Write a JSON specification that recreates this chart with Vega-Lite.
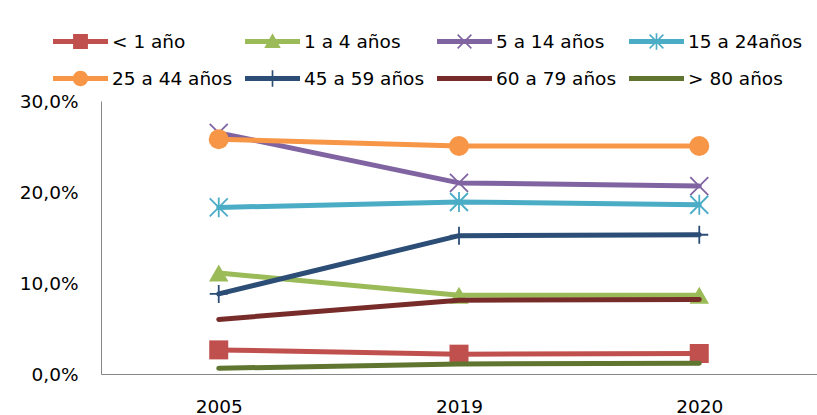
{
  "$schema": "https://vega.github.io/schema/vega-lite/v6.json",
  "width": 716,
  "height": 273,
  "autosize": "none",
  "padding": {"left": 101, "top": 101, "right": 0, "bottom": 41},
  "background": "white",
  "config": {"view": {"stroke": null}, "font": "DejaVu Sans"},
  "data": {
    "values": [
      {"serie": "< 1 año", "anio": "2005", "valor": 0.0265},
      {"serie": "< 1 año", "anio": "2019", "valor": 0.0218},
      {"serie": "< 1 año", "anio": "2020", "valor": 0.0225},
      {"serie": "1 a 4 años", "anio": "2005", "valor": 0.111},
      {"serie": "1 a 4 años", "anio": "2019", "valor": 0.0865},
      {"serie": "1 a 4 años", "anio": "2020", "valor": 0.0865},
      {"serie": "5 a 14 años", "anio": "2005", "valor": 0.265},
      {"serie": "5 a 14 años", "anio": "2019", "valor": 0.21},
      {"serie": "5 a 14 años", "anio": "2020", "valor": 0.2065},
      {"serie": "15 a 24años", "anio": "2005", "valor": 0.183},
      {"serie": "15 a 24años", "anio": "2019", "valor": 0.189},
      {"serie": "15 a 24años", "anio": "2020", "valor": 0.186},
      {"serie": "25 a 44 años", "anio": "2005", "valor": 0.258},
      {"serie": "25 a 44 años", "anio": "2019", "valor": 0.2505},
      {"serie": "25 a 44 años", "anio": "2020", "valor": 0.2505},
      {"serie": "45 a 59 años", "anio": "2005", "valor": 0.088},
      {"serie": "45 a 59 años", "anio": "2019", "valor": 0.152},
      {"serie": "45 a 59 años", "anio": "2020", "valor": 0.153},
      {"serie": "60 a 79 años", "anio": "2005", "valor": 0.06},
      {"serie": "60 a 79 años", "anio": "2019", "valor": 0.081},
      {"serie": "60 a 79 años", "anio": "2020", "valor": 0.082},
      {"serie": "> 80 años", "anio": "2005", "valor": 0.0063},
      {"serie": "> 80 años", "anio": "2019", "valor": 0.011},
      {"serie": "> 80 años", "anio": "2020", "valor": 0.0117}
    ]
  },
  "encoding": {
    "x": {
      "field": "anio", "type": "ordinal",
      "scale": {"type": "point", "padding": 0.49},
      "axis": {"title": null, "labelAngle": 0, "ticks": false, "tickSize": 0, "labelPadding": 23, "labelFont": "DejaVu Sans", "labelFontSize": 18.5, "labelColor": "#000000", "domainColor": "#868686", "domainWidth": 1, "grid": false}
    },
    "y": {
      "field": "valor", "type": "quantitative",
      "scale": {"domain": [0, 0.3], "nice": false},
      "axis": {"title": null, "values": [0, 0.1, 0.2, 0.3], "labelExpr": "replace(format(datum.value, '.1%'), '.', ',')", "ticks": false, "tickSize": 0, "labelPadding": 23, "labelFont": "DejaVu Sans", "labelFontSize": 18.5, "labelColor": "#000000", "domainColor": "#868686", "domainWidth": 1, "grid": false}
    },
    "color": {"field": "serie", "type": "nominal",
      "scale": {"domain": ["< 1 año", "1 a 4 años", "5 a 14 años", "15 a 24años", "25 a 44 años", "45 a 59 años", "60 a 79 años", "> 80 años"],
                "range": ["#C0504D", "#9BBB59", "#8064A2", "#4BACC6", "#F79646", "#2C4D75", "#772C2A", "#5F7530"]},
      "legend": {"title": null, "orient": "none", "direction": "horizontal", "legendX": -48, "legendY": -87, "columns": 4, "symbolSize": 3025, "symbolStrokeWidth": 0, "symbolOpacity": 1, "labelFont": "DejaVu Sans", "labelFontSize": 18.5, "labelColor": "#000000", "labelOffset": 4, "columnPadding": 12, "rowPadding": -24, "padding": 0, "labelLimit": 400}}
  },
  "layer": [
    {
      "transform": [{"filter": {"field": "serie", "oneOf": ["< 1 año", "1 a 4 años", "5 a 14 años", "15 a 24años", "25 a 44 años", "45 a 59 años"]}}],
      "mark": {"type": "line", "strokeWidth": 5, "strokeCap": "round", "strokeJoin": "round"},
      "encoding": {}
    },
    {
      "transform": [{"filter": {"field": "serie", "equal": "< 1 año"}}],
      "mark": {"type": "point", "shape": "square", "filled": true, "opacity": 1, "size": 361}
    },
    {
      "transform": [{"filter": {"field": "serie", "equal": "1 a 4 años"}}],
      "mark": {"type": "point", "shape": "triangle-up", "filled": true, "opacity": 1, "size": 380}
    },
    {
      "transform": [{"filter": {"field": "serie", "equal": "5 a 14 años"}}],
      "mark": {"type": "point", "shape": "M-1,-1L1,1M-1,1L1,-1", "filled": false, "opacity": 1, "strokeWidth": 1.8, "size": 324}
    },
    {
      "transform": [{"filter": {"field": "serie", "equal": "15 a 24años"}}],
      "mark": {"type": "point", "shape": "M-1,-1L1,1M-1,1L1,-1M0,-1.1L0,1.1", "filled": false, "opacity": 1, "strokeWidth": 1.8, "size": 324}
    },
    {
      "transform": [{"filter": {"field": "serie", "equal": "25 a 44 años"}}],
      "mark": {"type": "point", "shape": "circle", "filled": true, "opacity": 1, "size": 400}
    },
    {
      "transform": [{"filter": {"field": "serie", "equal": "45 a 59 años"}}],
      "mark": {"type": "point", "shape": "M-1,0L1,0M0,-1L0,1", "filled": false, "opacity": 1, "strokeWidth": 1.8, "size": 324}
    },
    {
      "transform": [{"filter": {"field": "serie", "oneOf": ["60 a 79 años", "> 80 años"]}}],
      "mark": {"type": "line", "strokeWidth": 5, "strokeCap": "round", "strokeJoin": "round"},
      "encoding": {}
    },
    {
      "mark": {"type": "point", "filled": true, "opacity": 0, "size": 30},
      "encoding": {
        "shape": {"field": "serie", "type": "nominal",
          "scale": {"domain": ["< 1 año", "1 a 4 años", "5 a 14 años", "15 a 24años", "25 a 44 años", "45 a 59 años", "60 a 79 años", "> 80 años"],
                    "range": [
                      "M-1,-0.09H1V0.09H-1Z M-0.27,-0.27H0.27V0.27H-0.27Z",
                      "M-1,-0.09H1V0.09H-1Z M0,-0.3L0.3,0.24L-0.3,0.24Z",
                      "M-1,-0.09H1V0.09H-1Z M-0.27,-0.23L-0.23,-0.27L0.27,0.23L0.23,0.27Z M-0.27,0.23L0.23,-0.27L0.27,-0.23L-0.23,0.27Z",
                      "M-1,-0.09H1V0.09H-1Z M-0.27,-0.23L-0.23,-0.27L0.27,0.23L0.23,0.27Z M-0.27,0.23L0.23,-0.27L0.27,-0.23L-0.23,0.27Z M-0.03,-0.3H0.03V0.3H-0.03Z",
                      "M-1,-0.09H1V0.09H-1Z M0.28,0A0.28,0.28,0,1,1,-0.28,0A0.28,0.28,0,1,1,0.28,0Z",
                      "M-1,-0.09H1V0.09H-1Z M-0.03,-0.3H0.03V0.3H-0.03Z",
                      "M-1,-0.09H1V0.09H-1Z",
                      "M-1,-0.09H1V0.09H-1Z"
                    ]},
          "legend": {"title": null, "orient": "none", "direction": "horizontal", "legendX": -48, "legendY": -87, "columns": 4, "symbolSize": 3025, "symbolStrokeWidth": 0, "symbolOpacity": 1, "labelFont": "DejaVu Sans", "labelFontSize": 18.5, "labelColor": "#000000", "labelOffset": 4, "columnPadding": 12, "rowPadding": -24, "padding": 0, "labelLimit": 400}}
      }
    }
  ]
}
